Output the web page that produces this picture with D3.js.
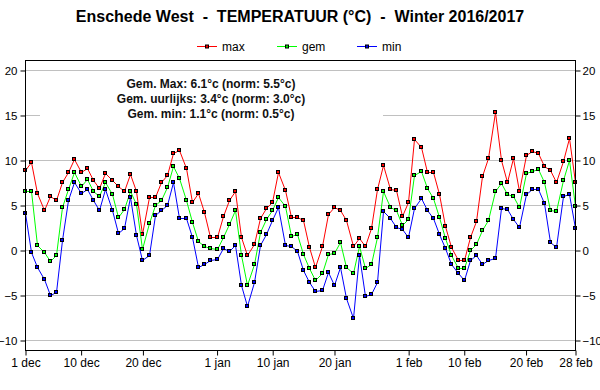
<!DOCTYPE html>
<html>
<head>
<meta charset="utf-8">
<script src="https://cdn.jsdelivr.net/npm/d3@7"></script>
<style>
  body { margin: 0; background: #fff; }
  svg { display: block; font-family: Arial, "Liberation Sans", sans-serif; }
</style>
</head>
<body>
<svg id="chart" width="600" height="390"></svg>
<script>
// daily values, 1 dec 2016 .. 28 feb 2017
var maxTemp = [8.9, 9.8, 6.3, 4.4, 6.0, 5.5, 7.5, 8.7, 10.1, 8.7,
  9.1, 7.8, 6.9, 8.5, 7.8, 7.1, 6.5, 8.4, 6.6, 1.8,
  5.9, 5.9, 7.6, 8.3, 10.8, 11.1, 9.1, 5.3, 6.3, 4.2,
  1.5, 1.5, 3.8, 5.5, 6.6, 1.5, -0.5, 0.7, 3.6, 4.7,
  5.3, 8.7, 6.7, 3.7, 3.7, 3.3, 0.3, -1.9, 0.4, 4.0,
  4.8, 4.5, 3.3, 0.4, 1.3, 0.5, 2.4, 6.8, 9.4, 6.8,
  6.7, 3.8, 5.3, 12.3, 11.4, 8.7, 8.7, 6.2, 2.7, 0.3,
  -1.1, -1.1, 1.4, 3.2, 8.2, 10.2, 15.3, 10.0, 7.6, 10.2,
  6.6, 10.5, 11.0, 10.8, 9.3, 8.9, 7.5, 9.9, 12.4, 7.5];
var gemTemp = [6.5, 6.6, 0.6, -0.2, -1.2, -0.5, 4.8, 6.8, 8.7, 7.1,
  7.9, 6.5, 6.0, 7.6, 6.2, 3.7, 4.6, 6.6, 5.1, 0.1,
  3.0, 5.0, 5.5, 7.0, 9.3, 8.0, 5.6, 3.1, 1.0, 0.4,
  0.2, 0.1, 1.5, 2.9, 4.5, -0.6, -3.9, -1.6, 2.0, 3.4,
  4.4, 5.9, 4.9, 1.6, 1.8, -0.4, -2.0, -3.3, -2.5, -0.4,
  -0.3, 0.9, -1.9, -2.5, 0.4, -2.0, -1.6, 1.5, 6.5, 4.8,
  4.5, 2.8, 3.4, 8.3, 8.8, 6.9, 5.8, 3.7, 1.3, -0.5,
  -2.0, -2.0, 0.0, 0.7, 2.2, 3.3, 6.5, 7.4, 6.2, 6.0,
  4.8, 8.5, 8.8, 9.0, 7.6, 4.5, 4.3, 7.8, 10.0, 4.9];
var minTemp = [4.1, -0.2, -1.9, -3.2, -5.0, -4.7, 1.1, 5.5, 7.5, 6.3,
  6.8, 5.5, 4.5, 6.8, 4.4, 1.9, 2.5, 5.9, 1.7, -1.1,
  -0.6, 3.9, 4.4, 5.0, 7.6, 3.6, 3.6, 1.5, -1.9, -1.6,
  -1.1, -1.0, 0.2, -0.1, 0.6, -3.9, -6.2, -3.5, 0.6, 1.8,
  3.3, 4.8, 0.6, 0.4, -0.1, -2.2, -3.5, -4.5, -4.4, -2.4,
  -3.9, -1.9, -5.3, -7.5, -0.5, -5.1, -4.9, -3.6, 4.3, 3.6,
  2.6, 2.3, 1.5, 4.7, 5.8, 4.5, 3.6, 1.8, 0.2, -1.5,
  -2.6, -3.3, -1.1, -0.6, -1.6, -1.1, -0.9, 4.7, 4.6, 3.5,
  2.6, 6.2, 6.8, 6.8, 5.2, 0.9, 0.3, 6.0, 6.2, 2.5];

var seriesNames = ['max', 'gem', 'min'];
var seriesColors = ['#ff0000', '#00ff00', '#0000ff'];
var tickDates = ['2016-12-01', '2016-12-10', '2016-12-20', '2017-01-01', '2017-01-10',
  '2017-01-20', '2017-02-01', '2017-02-10', '2017-02-20', '2017-02-28'];
var tickLabels = ['1 dec', '10 dec', '20 dec', '1 jan', '10 jan',
  '20 jan', '1 feb', '10 feb', '20 feb', '28 feb'];
var yTicks = [-10, -5, 0, 5, 10, 15, 20];
var infoLines = ['Gem. Max: 6.1\u00b0c (norm: 5.5\u00b0c)',
  'Gem. uurlijks: 3.4\u00b0c (norm: 3.0\u00b0c)',
  'Gem. min: 1.1\u00b0c (norm: 0.5\u00b0c)'];
var title = 'Enschede West  -  TEMPERATUUR (\u00b0C)  -  Winter 2016/2017';

var svg = d3.select('#chart');
var plot = {left: 25, right: 575, top: 60, bottom: 350};
var parse = d3.utcParse('%Y-%m-%d');
var start = parse('2016-12-01');

var x = d3.scaleUtc()
  .domain([start, parse('2017-02-28')])
  .range([plot.left, plot.right]);
var y = d3.scaleLinear()
  .domain([-11.11, 21.11])
  .range([plot.bottom, plot.top]);

function dayDate(i) { return d3.utcDay.offset(start, i); }

// grid
svg.append('g').selectAll('line').data(yTicks).enter().append('line')
  .attr('x1', plot.left).attr('x2', plot.right)
  .attr('y1', function(d){ return Math.round(y(d)) + 0.5 })
  .attr('y2', function(d){ return Math.round(y(d)) + 0.5 })
  .attr('stroke', '#c0c0c0').attr('stroke-width', 1);

// info box covers grid
svg.append('rect')
  .attr('x', 40).attr('y', 73).attr('width', 343).attr('height', 50)
  .attr('fill', '#fff');
svg.append('g').selectAll('text').data(infoLines).enter().append('text')
  .attr('x', 211)
  .attr('y', function(d, i){ return 88 + i * 15 })
  .attr('text-anchor', 'middle')
  .attr('font-size', '12px').attr('font-weight', 'bold')
  .attr('fill', '#111')
  .text(function(d){ return d });

// series
var allSeries = [maxTemp, gemTemp, minTemp];
var line = d3.line()
  .x(function(d, i){ return Math.round(x(dayDate(i))) + 0.5 })
  .y(function(d){ return Math.round(y(d)) + 0.5 });

allSeries.forEach(function(vals, s){
  var g = svg.append('g');
  g.append('path')
    .attr('d', line(vals))
    .attr('fill', 'none')
    .attr('stroke', seriesColors[s])
    .attr('stroke-width', 1);
  g.selectAll('rect').data(vals).enter().append('rect')
    .attr('x', function(d, i){ return Math.round(x(dayDate(i))) - 1.5 })
    .attr('y', function(d){ return Math.round(y(d)) - 1.5 })
    .attr('width', 3).attr('height', 3)
    .attr('fill', seriesColors[s])
    .attr('stroke', '#000').attr('stroke-width', 1);
});

// frame
svg.append('rect')
  .attr('x', plot.left + 0.5).attr('y', plot.top + 0.5)
  .attr('width', plot.right - plot.left).attr('height', plot.bottom - plot.top)
  .attr('fill', 'none').attr('stroke', '#000');

// axes
var xAxis = d3.axisBottom(x)
  .tickValues(tickDates.map(parse))
  .tickSize(5).tickSizeOuter(0)
  .tickFormat(function(d, i){ return tickLabels[i] });
var gx = svg.append('g').attr('transform', 'translate(0.5,' + (plot.bottom + 0.5) + ')').call(xAxis);
gx.select('.domain').remove();

var gl = svg.append('g').attr('transform', 'translate(' + (plot.left + 0.5) + ',0.5)')
  .call(d3.axisLeft(y).tickValues(yTicks).tickSize(5).tickSizeOuter(0).tickPadding(3));
gl.select('.domain').remove();
var gr = svg.append('g').attr('transform', 'translate(' + (plot.right + 0.5) + ',0.5)')
  .call(d3.axisRight(y).tickValues(yTicks).tickSize(5).tickSizeOuter(0).tickPadding(2));
gr.select('.domain').remove();

svg.selectAll('.tick text')
  .attr('font-family', 'Arial, "Liberation Sans", sans-serif')
  .attr('font-size', '12px').attr('fill', '#000');
gl.selectAll('.tick text').attr('font-size', '11.5px');
gr.selectAll('.tick text').attr('font-size', '11.5px');
svg.selectAll('.tick line').attr('stroke', '#000');

// title
svg.append('text')
  .attr('x', 300).attr('y', 22)
  .attr('text-anchor', 'middle')
  .attr('font-size', '16px').attr('font-weight', 'bold')
  .style('white-space', 'pre')
  .text(title);

// legend
var legendX = [197, 277, 357];
var leg = svg.append('g').selectAll('g').data(seriesNames).enter().append('g')
  .attr('transform', function(d, i){ return 'translate(' + legendX[i] + ',46)' });
leg.append('line')
  .attr('x1', 0).attr('x2', 20).attr('y1', 0.5).attr('y2', 0.5)
  .attr('stroke', function(d, i){ return seriesColors[i] });
leg.append('rect')
  .attr('x', 8.5).attr('y', -1).attr('width', 3).attr('height', 3)
  .attr('fill', function(d, i){ return seriesColors[i] })
  .attr('stroke', '#000');
leg.append('text')
  .attr('x', 25).attr('y', 5)
  .attr('font-size', '12px')
  .text(function(d){ return d });
</script>
</body>
</html>
